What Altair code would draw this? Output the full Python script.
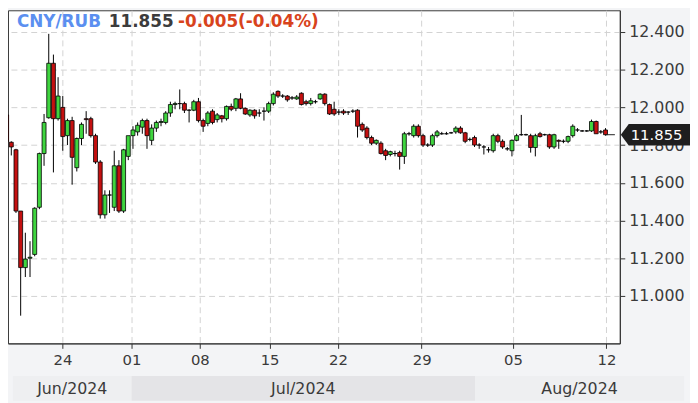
import altair as alt
import pandas as pd

symbol = "CNY/RUB"
last_text = "11.855"
change_text = "-0.005(-0.04%)"
last_price = 11.855

opens = [11.96, 11.815, 11.775, 11.45, 11.15, 11.20, 11.22, 11.47, 11.755, 11.945,
         12.234, 11.94, 12.00, 11.85, 11.93, 11.68, 11.835, 11.94, 11.94, 11.85,
         11.71, 11.43, 11.535, 11.47, 11.69, 11.45, 11.74, 11.85, 11.87, 11.895,
         11.93, 11.825, 11.89, 11.92, 11.92, 11.97, 12.015, 12.02, 12.02, 11.985,
         11.985, 12.03, 11.93, 11.915, 11.98, 11.935, 11.955, 11.94, 12.005, 11.995,
         12.045, 11.995, 11.96, 11.985, 11.97, 11.98, 11.98, 12.02, 12.085, 12.06,
         12.06, 12.05, 12.045, 12.075, 12.03, 12.02, 12.03, 12.045, 12.07, 12.015,
         11.99, 11.975, 11.98, 11.975, 11.98, 11.985, 11.91, 11.89, 11.84, 11.81,
         11.81, 11.77, 11.75, 11.755, 11.76, 11.74, 11.86, 11.85, 11.90, 11.85,
         11.80, 11.80, 11.85, 11.86, 11.86, 11.865, 11.87, 11.89, 11.865, 11.83,
         11.84, 11.80, 11.79, 11.775, 11.77, 11.85, 11.82, 11.78, 11.77, 11.825,
         11.855, 11.855, 11.85, 11.787, 11.86, 11.855, 11.855, 11.79, 11.825, 11.82,
         11.82, 11.85, 11.88, 11.875, 11.875, 11.875, 11.925, 11.87, 11.88]
highs = [11.97, 11.82, 11.78, 11.45, 11.335, 11.29, 11.47, 11.76, 11.965, 12.39,
         12.28, 12.16, 12.06, 11.94, 11.95, 11.84, 11.92, 11.98, 11.95, 11.86,
         11.72, 11.56, 11.56, 11.77, 11.72, 11.78, 11.80, 11.90, 11.92, 11.94,
         11.94, 11.91, 11.93, 11.94, 11.98, 12.03, 12.03, 12.095, 12.03, 11.99,
         12.04, 12.05, 11.94, 11.98, 11.99, 11.97, 11.96, 12.01, 12.02, 12.05,
         12.075, 12.00, 11.99, 11.99, 11.99, 12.00, 12.03, 12.08, 12.09, 12.07,
         12.065, 12.06, 12.065, 12.08, 12.04, 12.05, 12.04, 12.075, 12.075, 12.02,
         12.03, 11.99, 11.99, 11.98, 11.99, 11.99, 11.92, 11.90, 11.85, 11.83,
         11.82, 11.78, 11.77, 11.77, 11.77, 11.87, 11.87, 11.91, 11.91, 11.86,
         11.81, 11.86, 11.88, 11.87, 11.87, 11.87, 11.90, 11.90, 11.87, 11.84,
         11.85, 11.81, 11.80, 11.79, 11.86, 11.86, 11.83, 11.79, 11.83, 11.86,
         11.96, 11.86, 11.86, 11.86, 11.87, 11.86, 11.86, 11.86, 11.83, 11.83,
         11.85, 11.91, 11.89, 11.88, 11.88, 11.935, 11.93, 11.88, 11.89]
lows = [11.80, 11.745, 11.44, 10.895, 11.10, 11.10, 11.21, 11.46, 11.69, 11.94,
        11.655, 11.93, 11.77, 11.80, 11.59, 11.66, 11.80, 11.86, 11.84, 11.70,
        11.41, 11.41, 11.44, 11.45, 11.44, 11.44, 11.72, 11.78, 11.85, 11.86,
        11.78, 11.80, 11.87, 11.90, 11.91, 11.95, 11.99, 11.99, 11.97, 11.92,
        11.98, 11.92, 11.87, 11.90, 11.91, 11.92, 11.92, 11.93, 11.98, 11.98,
        11.99, 11.96, 11.95, 11.94, 11.95, 11.93, 11.97, 12.01, 12.05, 12.05,
        12.03, 12.04, 12.04, 12.01, 12.01, 12.01, 12.02, 12.04, 12.01, 11.96,
        11.955, 11.96, 11.96, 11.96, 11.97, 11.84, 11.87, 11.83, 11.80, 11.80,
        11.75, 11.72, 11.74, 11.74, 11.67, 11.70, 11.85, 11.84, 11.84, 11.79,
        11.79, 11.79, 11.84, 11.855, 11.855, 11.86, 11.86, 11.86, 11.81, 11.82,
        11.79, 11.78, 11.75, 11.76, 11.76, 11.81, 11.78, 11.77, 11.74, 11.82,
        11.85, 11.85, 11.76, 11.74, 11.84, 11.85, 11.78, 11.78, 11.78, 11.81,
        11.81, 11.84, 11.87, 11.87, 11.87, 11.87, 11.86, 11.86, 11.85]
closes = [11.82, 11.79, 11.45, 11.15, 11.195, 11.205, 11.465, 11.755, 11.92, 12.234,
          11.94, 12.06, 11.845, 11.93, 11.735, 11.835, 11.91, 11.935, 11.85, 11.71,
          11.43, 11.535, 11.535, 11.69, 11.45, 11.775, 11.85, 11.88, 11.905, 11.93,
          11.85, 11.89, 11.92, 11.925, 11.97, 12.015, 12.02, 12.02, 11.985, 11.985,
          12.03, 11.93, 11.90, 11.97, 11.92, 11.96, 11.94, 12.005, 11.99, 12.045,
          11.995, 11.965, 11.985, 11.955, 11.97, 11.98, 12.02, 12.07, 12.06, 12.06,
          12.04, 12.05, 12.055, 12.015, 12.02, 12.035, 12.03, 12.07, 12.02, 11.965,
          11.965, 11.975, 11.97, 11.975, 11.98, 11.90, 11.88, 11.84, 11.81, 11.825,
          11.755, 11.745, 11.765, 11.755, 11.74, 11.86, 11.86, 11.90, 11.85, 11.80,
          11.80, 11.85, 11.87, 11.86, 11.86, 11.865, 11.89, 11.865, 11.82, 11.83,
          11.80, 11.80, 11.79, 11.775, 11.85, 11.82, 11.79, 11.78, 11.825, 11.85,
          11.855, 11.855, 11.787, 11.85, 11.845, 11.855, 11.79, 11.855, 11.82, 11.82,
          11.845, 11.90, 11.88, 11.875, 11.875, 11.925, 11.86, 11.87, 11.855]

tick_idx = [11.95, 26.7, 41.3, 56.2, 70.8, 88.7, 108.2, 128.2]
tick_labels = ["24", "01", "08", "15", "22", "29", "05", "12"]
y_ticks = [11.0, 11.2, 11.4, 11.6, 11.8, 12.0, 12.2, 12.4]
month_labels = ["Jun/2024", "Jul/2024", "Aug/2024"]
month_from = [1.35, 26.7, 100.1]
month_to = [26.7, 100.1, 144.8]

X_DOMAIN = [1.35, 130.0]
Y_DOMAIN = [10.748, 12.515]
FONT = "DejaVu Sans"

n = len(closes)
df = pd.DataFrame({"i": list(range(n)), "open": opens, "high": highs,
                   "low": lows, "close": closes})
df["dir"] = ["up" if c >= o else "down" for o, c in zip(opens, closes)]

months = pd.DataFrame({"label": month_labels, "start": month_from, "end": month_to})
last_df = pd.DataFrame({"i": [n - 1], "end": [X_DOMAIN[1]], "price": [last_price],
                        "label": [last_text]})
header = pd.DataFrame({"a": [symbol], "b": [last_text], "c": [change_text]})

xs = alt.Scale(domain=X_DOMAIN, nice=False, zero=False)
ys = alt.Scale(domain=Y_DOMAIN, nice=False, zero=False)

label_expr = "[" + ",".join("'%s'" % t for t in tick_labels) + "][indexof([" + \
    ",".join(str(v) for v in tick_idx) + "], datum.value)]"

x_axis = alt.Axis(values=tick_idx, labelExpr=label_expr, title=None, grid=True,
                  gridDash=[6, 4], gridColor="#d2d2d2", tickSize=5, tickColor="#333",
                  domainColor="#333", labelFontSize=15, labelColor="#3a3a3a",
                  labelFont=FONT, labelPadding=4, labelFlush=False)
y_axis = alt.Axis(values=y_ticks, format=".3f", orient="right", title=None, grid=True,
                  gridDash=[6, 4], gridColor="#d2d2d2", tickSize=5, tickColor="#333",
                  domainColor="#333", labelFontSize=16, labelColor="#3a3a3a",
                  labelFont=FONT, labelPadding=4)

wicks = alt.Chart(df).mark_rule(color="black", strokeWidth=1, clip=True).encode(
    x=alt.X("i:Q", scale=xs, axis=x_axis),
    y=alt.Y("low:Q", scale=ys, axis=y_axis),
    y2="high:Q",
)
bodies = alt.Chart(df).mark_bar(size=4.0, stroke="black", strokeWidth=0.8, clip=True).encode(
    x=alt.X("i:Q", scale=xs, axis=x_axis),
    y=alt.Y("open:Q", scale=ys, axis=y_axis),
    y2="close:Q",
    color=alt.Color("dir:N", scale=alt.Scale(domain=["up", "down"], range=["#3fd53f", "#c41010"]),
                    legend=None),
)
bands = alt.Chart(months).mark_rect(clip=False).encode(
    x=alt.X("start:Q", scale=xs, axis=x_axis),
    x2="end:Q",
    y=alt.value(370), y2=alt.value(395),
    color=alt.condition("datum.label == 'Jul/2024'", alt.value("#e4e4e7"), alt.value("#eeeff1")),
)
band_text = alt.Chart(months).transform_calculate(mid="(datum.start + datum.end) / 2").mark_text(
    fontSize=16, font=FONT, color="#3a3a3a", baseline="middle", clip=False
).encode(x=alt.X("mid:Q", scale=xs, axis=x_axis), y=alt.value(383), text="label:N")

last_line = alt.Chart(last_df).mark_rule(color="#222", strokeWidth=1).encode(
    x=alt.X("i:Q", scale=xs, axis=x_axis), x2="end:Q", y=alt.Y("price:Q", scale=ys, axis=y_axis))
box = alt.Chart(last_df).mark_point(
    shape="M0,0L0.23,-0.31L2,-0.31L2,0.31L0.23,0.31Z", size=4900, filled=True,
    color="#1e1e1e", opacity=1, clip=False
).encode(x=alt.value(620), y=alt.Y("price:Q", scale=ys, axis=y_axis))
box_text = alt.Chart(last_df).mark_text(
    align="left", baseline="middle", color="white", fontSize=15, font=FONT, clip=False
).encode(x=alt.value(630), y=alt.Y("price:Q", scale=ys, axis=y_axis), text="label:N")

h1 = alt.Chart(header).mark_text(align="left", baseline="middle", fontSize=17, fontWeight="bold",
                                 font=FONT, color="#5b8ff0").encode(
    x=alt.value(9), y=alt.value(12), text="a:N")
h2 = alt.Chart(header).mark_text(align="left", baseline="middle", fontSize=17, fontWeight="bold",
                                 font=FONT, color="#3c3c3c").encode(
    x=alt.value(102), y=alt.value(12), text="b:N")
h3 = alt.Chart(header).mark_text(align="left", baseline="middle", fontSize=17, fontWeight="bold",
                                 font=FONT, color="#d8431c").encode(
    x=alt.value(172), y=alt.value(12), text="c:N")

chart = alt.layer(wicks, bodies, bands, band_text, last_line, h1, h2, h3, box, box_text).properties(
    width=619, height=337, padding={"left": 0, "top": 0, "right": 0, "bottom": 0}
).configure(background="#f3f4f6").configure_view(fill="white", stroke="#3a3a3a", strokeWidth=1)

chart.save("out.html", embed_options={"renderer": "svg", "actions": False})
